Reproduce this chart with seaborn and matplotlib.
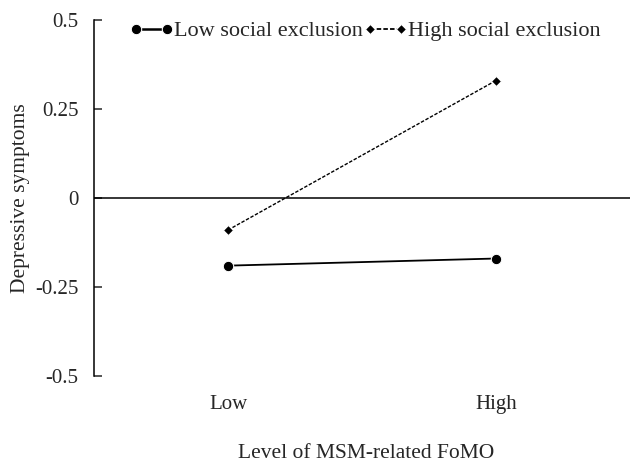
import pandas as pd
import matplotlib
matplotlib.use('Agg')
import matplotlib.pyplot as plt
import seaborn as sns

# values
fomo_levels = ['Low', 'High']
low_exclusion = [-0.19, -0.17]
high_exclusion = [-0.09, 0.33]
y_ticks = [-0.5, -0.25, 0, 0.25, 0.5]
y_tick_labels = ['-0.5', '-0.25', '0', '0.25', '0.5']

df = pd.DataFrame({
    'FoMO': fomo_levels * 2,
    'pos': [0, 1] * 2,
    'Depressive symptoms': low_exclusion + high_exclusion,
    'group': ['Low social exclusion'] * 2 + ['High social exclusion'] * 2,
})

sns.set_style('white')
plt.rcParams['font.family'] = ['Liberation Serif', 'DejaVu Serif']

fig = plt.figure(figsize=(6.3, 4.67), dpi=100)
ax = fig.add_axes([94 / 630, 1 - 376 / 467, 1 - 94 / 630, (376 - 20) / 467])

ax.axhline(0, color='black', lw=1.1, zorder=1)

sns.lineplot(data=df, x='pos', y='Depressive symptoms', hue='group', style='group',
             palette={'Low social exclusion': 'black', 'High social exclusion': 'black'},
             markers={'Low social exclusion': 'o', 'High social exclusion': 'D'},
             dashes={'Low social exclusion': '', 'High social exclusion': (2.5, 1.2)},
             ax=ax, zorder=3)

for ln in ax.get_lines():
    if ln.get_marker() == 'o':
        ln.set_markersize(7.5)
        ln.set_linewidth(1.3)
    elif ln.get_marker() == 'D':
        ln.set_markersize(5.5)
        ln.set_linewidth(1.0)

handles, labels = ax.get_legend_handles_labels()
for h in handles:
    if h.get_marker() == 'o':
        h.set_markersize(7.5)
        h.set_linewidth(1.8)
    elif h.get_marker() == 'D':
        h.set_markersize(5.5)
        h.set_linewidth(1.3)
        h.set_dashes((2.5, 1.2))
ax.legend(handles, labels, ncol=2, numpoints=2, frameon=False, fontsize=16,
          handlelength=2.0, handletextpad=0.02, columnspacing=0.0,
          loc='center left', bbox_to_anchor=(0.066, 0.969), borderaxespad=0, borderpad=0)

ax.set_xlim(-0.5, 1.5)
ax.set_ylim(-0.5, 0.5)
ax.set_xticks([0, 1])
ax.set_xticklabels(fomo_levels)
ax.set_yticks(y_ticks)
ax.set_yticklabels(y_tick_labels)
ax.tick_params(axis='x', length=0, pad=14, labelsize=15)
ax.tick_params(axis='y', direction='in', length=6, width=1.1, pad=11, labelsize=15, left=True)

for s in ['top', 'right', 'bottom']:
    ax.spines[s].set_visible(False)
ax.spines['left'].set_color('black')
ax.spines['left'].set_linewidth(1.1)

ax.set_xlabel('Level of MSM-related FoMO', fontsize=15.5, va='center')
ax.xaxis.set_label_coords((366 - 94) / 536, -(453 - 376) / 356)
ax.set_ylabel('Depressive symptoms', fontsize=15.5, va='center')
ax.yaxis.set_label_coords(-(94 - 21) / 536, 0.5)

fig.savefig('out.png', dpi=100)
